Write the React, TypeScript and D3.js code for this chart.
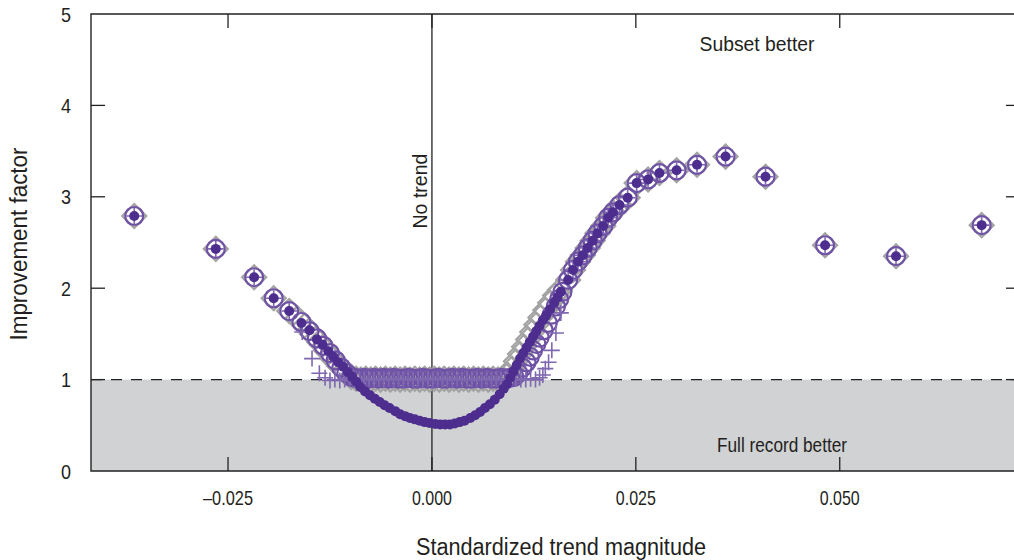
import React from "react";
import * as d3 from "d3";

type Pt = [number, number];

// points where all four methods land on top of each other
const tailLeft: Pt[] = [
  [-0.0365, 2.79], [-0.0265, 2.43], [-0.0218, 2.12], [-0.0194, 1.89], [-0.0175, 1.75],
];
const tailRight: Pt[] = [
  [0.0167, 2.09], [0.0173, 2.2], [0.0179, 2.29], [0.0185, 2.36], [0.0191, 2.44],
  [0.0197, 2.52], [0.0203, 2.6], [0.021, 2.68], [0.0216, 2.77], [0.0222, 2.83],
  [0.023, 2.91], [0.024, 2.99], [0.0251, 3.15], [0.0265, 3.19], [0.0279, 3.26],
  [0.03, 3.29], [0.0325, 3.35], [0.036, 3.44], [0.0409, 3.22], [0.0482, 2.47],
  [0.0569, 2.35], [0.0674, 2.69],
];

// gray diamonds
const diamondMid: Pt[] = [
  [-0.0165, 1.67], [-0.0156, 1.59], [-0.0147, 1.5], [-0.0138, 1.41], [-0.013, 1.32],
  [-0.0122, 1.23], [-0.0114, 1.15], [-0.0106, 1.08], [-0.0099, 1.03], [-0.0093, 1.01],
  [-0.0087, 1.0], [-0.0081, 1.01], [-0.0075, 1.0], [-0.0069, 1.01], [-0.0063, 1.0],
  [-0.0057, 1.01], [-0.0051, 1.0], [-0.0045, 1.01], [-0.0039, 1.0], [-0.0033, 1.01],
  [-0.0027, 1.0], [-0.0021, 1.01], [-0.0015, 1.0], [-0.0009, 1.01], [-0.0003, 1.0],
  [0.0003, 1.01], [0.0009, 1.0], [0.0015, 1.01], [0.0021, 1.0], [0.0027, 1.01],
  [0.0033, 1.0], [0.0039, 1.01], [0.0045, 1.0], [0.0051, 1.01], [0.0057, 1.0],
  [0.0063, 1.01], [0.0069, 1.0], [0.0075, 1.01], [0.0081, 1.0], [0.0087, 1.01],
  [0.0093, 1.05], [0.0098, 1.12], [0.0103, 1.2], [0.0108, 1.28], [0.0113, 1.36],
  [0.0118, 1.44], [0.0123, 1.52], [0.0128, 1.6], [0.0133, 1.68], [0.0139, 1.76],
  [0.0145, 1.84], [0.0151, 1.92], [0.0157, 1.98],
];

// open circles
const circleMid: Pt[] = [
  [-0.016, 1.63], [-0.015, 1.53], [-0.0141, 1.45], [-0.0133, 1.37], [-0.0125, 1.29],
  [-0.0118, 1.21], [-0.0111, 1.13], [-0.0105, 1.07], [-0.0099, 1.03], [-0.0095, 1.02],
  [-0.0089, 1.01], [-0.0083, 1.02], [-0.0077, 1.01], [-0.0071, 1.02], [-0.0065, 1.01],
  [-0.0059, 1.02], [-0.0053, 1.01], [-0.0047, 1.02], [-0.0041, 1.01], [-0.0035, 1.01],
  [-0.0029, 1.02], [-0.0023, 1.01], [-0.0017, 1.01], [-0.0011, 1.02], [-0.0005, 1.01],
  [0.0001, 1.01], [0.0007, 1.02], [0.0013, 1.01], [0.0019, 1.01], [0.0025, 1.02],
  [0.0031, 1.01], [0.0037, 1.02], [0.0043, 1.01], [0.0049, 1.01], [0.0055, 1.02],
  [0.0061, 1.01], [0.0067, 1.02], [0.0073, 1.01], [0.0079, 1.01], [0.0085, 1.02],
  [0.0091, 1.01], [0.0096, 1.02], [0.0101, 1.03], [0.0106, 1.07], [0.0111, 1.13],
  [0.0116, 1.19], [0.012, 1.25], [0.0124, 1.32], [0.0128, 1.39], [0.0132, 1.46],
  [0.0137, 1.54], [0.0142, 1.62], [0.0147, 1.71], [0.0152, 1.8], [0.0156, 1.88],
  [0.016, 1.96],
];

// plus signs
const plusMid: Pt[] = [
  [-0.0159, 1.52], [-0.0147, 1.23], [-0.0138, 1.07], [-0.0131, 1.02], [-0.0125, 0.99],
  [-0.0119, 1.0], [-0.0113, 0.99], [-0.0107, 1.0], [-0.0101, 1.01], [-0.0095, 1.0],
  [-0.0089, 1.01], [-0.0083, 1.0], [-0.0077, 1.01], [-0.0071, 1.0], [-0.0065, 1.01],
  [-0.0059, 1.0], [-0.0053, 1.01], [-0.0047, 1.0], [-0.0041, 1.01], [-0.0035, 1.0],
  [-0.0029, 1.01], [-0.0023, 1.0], [-0.0017, 1.01], [-0.0011, 1.0], [-0.0005, 1.01],
  [0.0001, 1.0], [0.0007, 1.01], [0.0013, 1.0], [0.0019, 1.01], [0.0025, 1.0],
  [0.0031, 1.01], [0.0037, 1.0], [0.0043, 1.01], [0.0049, 1.0], [0.0055, 1.01],
  [0.0061, 1.0], [0.0067, 1.01], [0.0073, 1.0], [0.0079, 1.01], [0.0085, 1.0],
  [0.0091, 1.01], [0.0097, 1.0], [0.0103, 1.01], [0.0109, 1.0], [0.0115, 1.0],
  [0.0121, 1.01], [0.0127, 1.0], [0.0132, 1.02], [0.0136, 1.05], [0.0139, 1.12],
  [0.0143, 1.19], [0.0147, 1.32], [0.0152, 1.51], [0.0158, 1.73],
];

// filled dots
const dotMid: Pt[] = [
  [-0.016, 1.62], [-0.015, 1.54], [-0.0141, 1.44], [-0.0134, 1.38], [-0.0127, 1.31],
  [-0.0121, 1.25], [-0.0115, 1.19], [-0.0109, 1.14], [-0.0103, 1.08], [-0.0098, 1.03],
  [-0.0093, 0.98], [-0.0088, 0.92], [-0.0082, 0.87], [-0.0076, 0.83], [-0.007, 0.79],
  [-0.0064, 0.755], [-0.0058, 0.72], [-0.0052, 0.69], [-0.0045, 0.655], [-0.0039, 0.62],
  [-0.0033, 0.6], [-0.0027, 0.58], [-0.0021, 0.565], [-0.0015, 0.55], [-0.0009, 0.535],
  [-0.0003, 0.525], [0.0004, 0.515], [0.001, 0.51], [0.0016, 0.51], [0.0022, 0.51],
  [0.0028, 0.52], [0.0034, 0.535], [0.004, 0.55], [0.0047, 0.58], [0.0053, 0.61],
  [0.0059, 0.645], [0.0065, 0.69], [0.0071, 0.73], [0.0077, 0.78], [0.0083, 0.84],
  [0.0088, 0.9], [0.0092, 0.95], [0.0096, 1.02], [0.01, 1.09], [0.0104, 1.16],
  [0.0108, 1.23], [0.0112, 1.29], [0.0116, 1.35], [0.012, 1.41], [0.0124, 1.47],
  [0.0128, 1.53], [0.0132, 1.59], [0.0136, 1.65], [0.014, 1.7], [0.0145, 1.77],
  [0.015, 1.84], [0.0154, 1.9], [0.0158, 1.96],
];

const xTicks = [-0.025, 0, 0.025, 0.05];
const xTickLabels = ["\u20130.025", "0.000", "0.025", "0.050"];
const yTicks = [1, 2, 3, 4];
const yTickLabels = ["0", "1", "2", "3", "4", "5"];

const font = "'Liberation Sans', Arial, sans-serif";

export default function App() {
  const width = 1014;
  const height = 560;
  const plot = { left: 91, right: 1020, top: 14, bottom: 471 };

  const x = d3.scaleLinear().domain([-0.0418, 0.0721]).range([plot.left, plot.right]);
  const y = d3.scaleLinear().domain([0, 5]).range([plot.bottom, plot.top]);

  const diamonds = [...tailLeft, ...diamondMid, ...tailRight];
  const circles = [...tailLeft, ...circleMid, ...tailRight];
  const pluses = [...tailLeft, ...plusMid, ...tailRight];
  const dots = [...tailLeft, ...dotMid, ...tailRight];

  const dh = 12;
  const pa = 8;

  return (
    <svg
      width={width}
      height={height}
      style={{ position: "absolute", left: 0, top: 0, background: "#fff" }}
      fontFamily={font}
    >
      {/* full record better zone */}
      <rect
        x={plot.left}
        y={y(1)}
        width={plot.right - plot.left}
        height={y(0) - y(1)}
        fill="#d1d2d4"
      />
      <line
        x1={plot.left}
        x2={plot.right}
        y1={y(1)}
        y2={y(1)}
        stroke="#222"
        strokeWidth={1.3}
        strokeDasharray="11,9"
      />
      {/* no trend line */}
      <line x1={x(0)} x2={x(0)} y1={plot.top} y2={plot.bottom} stroke="#222" strokeWidth={1.3} />

      {/* frame */}
      <path
        d={`M${plot.right},${plot.top}H${plot.left}V${plot.bottom}H${plot.right}`}
        fill="none"
        stroke="#222"
        strokeWidth={1.4}
      />
      {xTicks.map((t) => (
        <g key={"xt" + t}>
          <line x1={x(t)} x2={x(t)} y1={plot.bottom} y2={plot.bottom - 14} stroke="#222" strokeWidth={1.3} />
          <line x1={x(t)} x2={x(t)} y1={plot.top} y2={plot.top + 14} stroke="#222" strokeWidth={1.3} />
        </g>
      ))}
      {yTicks.map((t) => (
        <g key={"yt" + t}>
          <line x1={plot.left} x2={plot.left + 14} y1={y(t)} y2={y(t)} stroke="#222" strokeWidth={1.3} />
          <line x1={plot.right - 14} x2={plot.right} y1={y(t)} y2={y(t)} stroke="#222" strokeWidth={1.3} />
        </g>
      ))}

      {/* markers */}
      <g fill="none" stroke="#a3a3a3" strokeWidth={2.2}>
        {diamonds.map(([a, b], i) => {
          const cx = x(a);
          const cy = y(b);
          return (
            <path key={"d" + i} d={`M${cx},${cy - dh}L${cx + dh},${cy}L${cx},${cy + dh}L${cx - dh},${cy}Z`} />
          );
        })}
      </g>
      <g fill="none" stroke="#6f52a6" strokeWidth={2.2}>
        {circles.map(([a, b], i) => (
          <circle key={"c" + i} cx={x(a)} cy={y(b)} r={9} />
        ))}
      </g>
      <g fill="none" stroke="#7f68b0" strokeWidth={1.6}>
        {pluses.map(([a, b], i) => {
          const cx = x(a);
          const cy = y(b);
          return <path key={"p" + i} d={`M${cx - pa},${cy}H${cx + pa}M${cx},${cy - pa}V${cy + pa}`} />;
        })}
      </g>
      <g fill="#4d2d8e">
        {dots.map(([a, b], i) => (
          <circle key={"o" + i} cx={x(a)} cy={y(b)} r={5} />
        ))}
      </g>

      {/* tick labels */}
      <g fontSize={21} fill="#231f20" textAnchor="middle">
        {xTicks.map((t, i) => (
          <text
            key={"xl" + t}
            x={x(t)}
            y={505}
            textLength={i === 0 ? 50 : 40}
            lengthAdjust="spacingAndGlyphs"
          >
            {xTickLabels[i]}
          </text>
        ))}
        {yTickLabels.map((l, i) => (
          <text key={"yl" + l} x={66} y={y(i) + 7.5} textLength={10} lengthAdjust="spacingAndGlyphs">
            {l}
          </text>
        ))}
      </g>

      {/* annotations */}
      <g fill="#231f20" textAnchor="middle">
        <text x={757} y={51} fontSize={21} textLength={115} lengthAdjust="spacingAndGlyphs">
          Subset better
        </text>
        <text x={782} y={452} fontSize={21} textLength={130} lengthAdjust="spacingAndGlyphs">
          Full record better
        </text>
        <text
          transform={`translate(${x(0) - 5},191) rotate(-90)`}
          fontSize={21}
          textLength={75}
          lengthAdjust="spacingAndGlyphs"
        >
          No trend
        </text>
        <text x={561} y={555} fontSize={23} textLength={290} lengthAdjust="spacingAndGlyphs">
          Standardized trend magnitude
        </text>
        <text
          transform="translate(27,244) rotate(-90)"
          fontSize={23}
          textLength={193}
          lengthAdjust="spacingAndGlyphs"
        >
          Improvement factor
        </text>
      </g>
    </svg>
  );
}
